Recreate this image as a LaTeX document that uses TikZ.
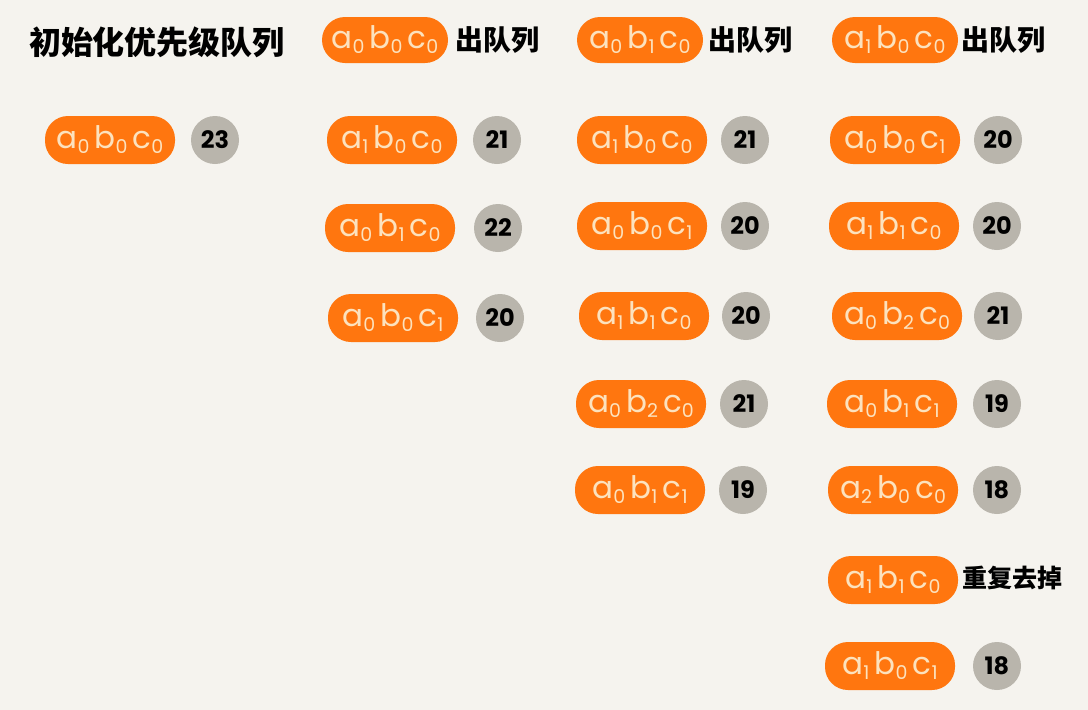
\documentclass[tikz,border=0pt]{standalone}
\usepackage{fontspec}
\setmainfont{Poppins}
\newfontfamily\cjk{Noto Sans CJK SC}
\definecolor{bgc}{HTML}{F5F3EE}
\definecolor{orangec}{HTML}{FF760F}
\definecolor{creamc}{HTML}{FCE2BE}
\definecolor{grayc}{HTML}{B9B5AC}
\newcommand\sbx[1]{\raisebox{-0.16em}{\fontsize{19}{19}\selectfont #1}}
\newcommand\abc[3]{a\sbx{#1}\,b\sbx{#2}\,c\sbx{#3}}
\tikzset{
  pill/.style={fill=orangec, rounded corners=23pt, minimum width=130pt, minimum height=48pt, inner sep=0pt,
    text=creamc, font=\fontsize{31}{34}\selectfont},
  cost/.style={circle, fill=grayc, minimum size=48pt, inner sep=0pt, text=black, font=\fontsize{24}{28}\selectfont\bfseries},
  head/.style={text=black, inner sep=0pt, font=\cjk\bfseries\fontsize{28}{32}\selectfont},
}
\begin{document}
\begin{tikzpicture}[x=1pt,y=-1pt]
\fill[bgc] (0,0) rectangle (1088,710);
\useasboundingbox (0,0) rectangle (1088,710);
% headers
\node[head, font=\cjk\bfseries\fontsize{32}{36}\selectfont] (h1) at (157,42) {初始化优先级队列};
\node[pill, minimum width=126pt, minimum height=46pt] (h2p) at (385,40) {\abc{0}{0}{0}};
\node[head] (h2t) at (497,40) {出队列};
\node[pill, minimum width=126pt, minimum height=46pt] (h3p) at (640,40) {\abc{0}{1}{0}};
\node[head] (h3t) at (750,40) {出队列};
\node[pill, minimum width=126pt, minimum height=46pt] (h4p) at (895,40) {\abc{1}{0}{0}};
\node[head] (h4t) at (1003,40) {出队列};
% column 1
\node[pill] (p11) at (110,140) {\abc{0}{0}{0}};
\node[cost] (c11) at (215,140) {23};
% column 2
\node[pill] (p21) at (392,140) {\abc{1}{0}{0}};
\node[cost] (c21) at (497,140) {21};
\node[pill] (p22) at (390,228) {\abc{0}{1}{0}};
\node[cost] (c22) at (498,228) {22};
\node[pill] (p23) at (393,318) {\abc{0}{0}{1}};
\node[cost] (c23) at (500,318) {20};
% column 3
\node[pill] (p31) at (642,140) {\abc{1}{0}{0}};
\node[cost] (c31) at (745,140) {21};
\node[pill] (p32) at (642,226) {\abc{0}{0}{1}};
\node[cost] (c32) at (745,226) {20};
\node[pill] (p33) at (644,316) {\abc{1}{1}{0}};
\node[cost] (c33) at (746,316) {20};
\node[pill] (p34) at (641,404) {\abc{0}{2}{0}};
\node[cost] (c34) at (744,404) {21};
\node[pill] (p35) at (640,490) {\abc{0}{1}{1}};
\node[cost] (c35) at (743,490) {19};
% column 4
\node[pill] (p41) at (895,140) {\abc{0}{0}{1}};
\node[cost] (c41) at (998,140) {20};
\node[pill] (p42) at (894,226) {\abc{1}{1}{0}};
\node[cost] (c42) at (997,226) {20};
\node[pill] (p43) at (897,316) {\abc{0}{2}{0}};
\node[cost] (c43) at (998,316) {21};
\node[pill] (p44) at (892,404) {\abc{0}{1}{1}};
\node[cost] (c44) at (997,404) {19};
\node[pill] (p45) at (893,490) {\abc{2}{0}{0}};
\node[cost] (c45) at (997,490) {18};
\node[pill] (p46) at (893,580) {\abc{1}{1}{0}};
\node[head, font=\cjk\bfseries\fontsize{25}{30}\selectfont] (t46) at (1012,578) {重复去掉};
\node[pill] (p47) at (890,666) {\abc{1}{0}{1}};
\node[cost] (c47) at (997,666) {18};
\end{tikzpicture}
\end{document}
